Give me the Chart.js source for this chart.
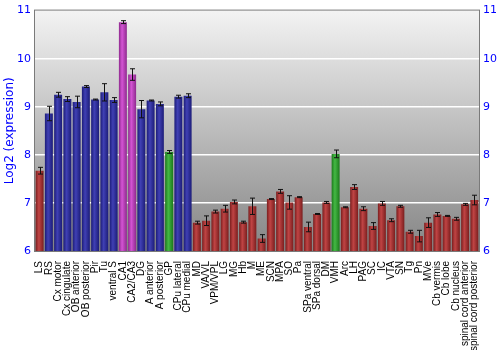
<!DOCTYPE html>
<html>
<head>
<meta charset="utf-8">
<script src="https://cdn.jsdelivr.net/npm/chart.js@4"></script>
<style>
html, body { margin: 0; padding: 0; background: #fff; }
#wrap { width: 500px; height: 350px; }
</style>
</head>
<body>
<div id="wrap"><canvas id="chart" width="500" height="350"></canvas></div>
<script>
const regions = ["LS", "RS", "Cx motor", "Cx cingulate", "OB anterior", "OB posterior", "Pir", "Tu",
  "ventral S", "CA1", "CA2/CA3", "DG", "A anterior", "A posterior", "GP", "CPu lateral", "CPu medial",
  "MD", "VA/VL", "VPM/VPL", "LG", "MG", "Hb", "M", "ME", "SCN", "MPA", "SO", "Pa", "SPa ventral",
  "SPa dorsal", "DM", "VMH", "Arc", "LH", "PAG", "SC", "IC", "VTA", "SN", "Tg", "Pn", "MVe",
  "Cb vermis", "Cb lobe", "Cb nucleus", "spinal cord anterior", "spinal cord posterior"];

const expression = [7.67, 8.86, 9.25, 9.16, 9.10, 9.42, 9.15, 9.30,
  9.14, 10.76, 9.67, 8.95, 9.13, 9.06, 8.06, 9.21, 9.23,
  6.59, 6.63, 6.82, 6.88, 7.02, 6.60, 6.93, 6.26, 7.08, 7.24, 7.01, 7.12, 6.50,
  6.77, 7.01, 8.02, 6.91, 7.33, 6.88, 6.52, 6.99, 6.64, 6.93, 6.40, 6.31, 6.59,
  6.76, 6.73, 6.67, 6.97, 7.06];

const errors = [0.07, 0.15, 0.05, 0.05, 0.12, 0.02, 0.01, 0.18,
  0.05, 0.03, 0.12, 0.18, 0.01, 0.04, 0.03, 0.03, 0.04,
  0.03, 0.10, 0.03, 0.07, 0.04, 0.02, 0.17, 0.08, 0.01, 0.04, 0.14, 0.01, 0.10,
  0.01, 0.02, 0.08, 0.01, 0.05, 0.04, 0.07, 0.04, 0.03, 0.02, 0.03, 0.12, 0.10,
  0.04, 0.01, 0.03, 0.02, 0.10];

// r = red, b = blue, m = magenta, g = green
const groups = ["r", "b", "b", "b", "b", "b", "b", "b",
  "b", "m", "m", "b", "b", "b", "g", "b", "b",
  "r", "r", "r", "r", "r", "r", "r", "r", "r", "r", "r", "r", "r",
  "r", "r", "g", "r", "r", "r", "r", "r", "r", "r", "r", "r", "r",
  "r", "r", "r", "r", "r"];

const yTicks = [6, 7, 8, 9, 10, 11];

const palette = {
  r: ["#7a1e1e", "#c04444", "#7a1e1e"],
  b: ["#1c1c78", "#4040b4", "#1c1c78"],
  m: ["#8e2a8e", "#d454d4", "#8e2a8e"],
  g: ["#1c7a1c", "#44b844", "#1c7a1c"]
};

const BAR_PCT = 0.86;

function barFill(ctx) {
  const chart = ctx.chart;
  const c = palette[groups[ctx.dataIndex]];
  if (!chart.chartArea) return c[1];
  const xs = chart.scales.x;
  const cx = xs.getPixelForValue(ctx.dataIndex);
  const w = chart.chartArea.width / regions.length * BAR_PCT;
  const g = chart.ctx.createLinearGradient(cx - w / 2, 0, cx + w / 2, 0);
  g.addColorStop(0, c[0]);
  g.addColorStop(0.4, c[1]);
  g.addColorStop(1, c[2]);
  return g;
}

/* background gradient and frame */
const plotBg = {
  id: "plotBg",
  beforeDraw(chart) {
    const a = chart.chartArea;
    const ctx = chart.ctx;
    const g = ctx.createLinearGradient(0, a.top, 0, a.bottom);
    g.addColorStop(0, "#f3f3f3");
    g.addColorStop(1, "#858585");
    ctx.save();
    ctx.fillStyle = g;
    ctx.fillRect(a.left, a.top, a.right - a.left, a.bottom - a.top);
    ctx.restore();
  },
  beforeDatasetsDraw(chart) {
    const a = chart.chartArea;
    const ctx = chart.ctx;
    ctx.save();
    ctx.strokeStyle = "#7a7a7a";
    ctx.lineWidth = 1;
    ctx.strokeRect(a.left - 0.5, a.top - 0.5, a.right - a.left + 1, a.bottom - a.top + 1);
    ctx.restore();
  }
};

/* error bars */
const errorBars = {
  id: "errorBars",
  afterDatasetsDraw(chart) {
    const ctx = chart.ctx;
    const ys = chart.scales.y;
    const meta = chart.getDatasetMeta(0);
    ctx.save();
    ctx.strokeStyle = "#111";
    ctx.lineWidth = 1;
    meta.data.forEach((bar, i) => {
      const x = Math.round(bar.x) + 0.5;
      const y1 = ys.getPixelForValue(expression[i] + errors[i]);
      const y2 = ys.getPixelForValue(expression[i] - errors[i]);
      ctx.beginPath();
      ctx.moveTo(x, y1);
      ctx.lineTo(x, y2);
      ctx.moveTo(x - 2.5, y1);
      ctx.lineTo(x + 2.5, y1);
      ctx.moveTo(x - 2.5, y2);
      ctx.lineTo(x + 2.5, y2);
      ctx.stroke();
    });
    ctx.restore();
  }
};

const tickFont = { family: "DejaVu Sans", size: 11 };

new Chart(document.getElementById("chart"), {
  type: "bar",
  data: {
    labels: regions,
    datasets: [{
      data: expression,
      backgroundColor: barFill,
      borderWidth: 0,
      barPercentage: BAR_PCT,
      categoryPercentage: 1
    }]
  },
  options: {
    responsive: false,
    animation: false,
    layout: { padding: { top: 9, left: 0, right: 0, bottom: 0 } },
    plugins: {
      legend: { display: false },
      tooltip: { enabled: false }
    },
    scales: {
      x: {
        grid: { display: false },
        border: { display: false },
        ticks: {
          color: "#000",
          font: { family: "Liberation Sans", size: 10 },
          minRotation: 90,
          maxRotation: 90,
          autoSkip: false,
          padding: 2
        },
        afterFit(s) { s.height = 99; }
      },
      y: {
        position: "left",
        min: 6,
        max: 11,
        afterBuildTicks(s) { s.ticks = yTicks.map(v => ({ value: v })); },
        grid: {
          color: c => (c.tick && c.tick.value > 6 && c.tick.value < 11) ? "#ffffff" : "rgba(0,0,0,0)",
          lineWidth: 1.5,
          drawTicks: false
        },
        border: { display: false },
        ticks: { color: "#0000ff", font: tickFont, padding: 4 },
        title: {
          display: true,
          text: "Log2 (expression)",
          color: "#0000ff",
          font: { family: "DejaVu Sans", size: 12 },
          padding: { top: 3, bottom: 0 }
        },
        afterFit(s) { s.width = 35; }
      },
      y2: {
        position: "right",
        min: 6,
        max: 11,
        afterBuildTicks(s) { s.ticks = yTicks.map(v => ({ value: v })); },
        grid: { display: false, drawTicks: false },
        border: { display: false },
        ticks: { color: "#0000ff", font: tickFont, padding: 4 },
        afterFit(s) { s.width = 21; }
      }
    }
  },
  plugins: [plotBg, errorBars]
});
</script>
</body>
</html>
